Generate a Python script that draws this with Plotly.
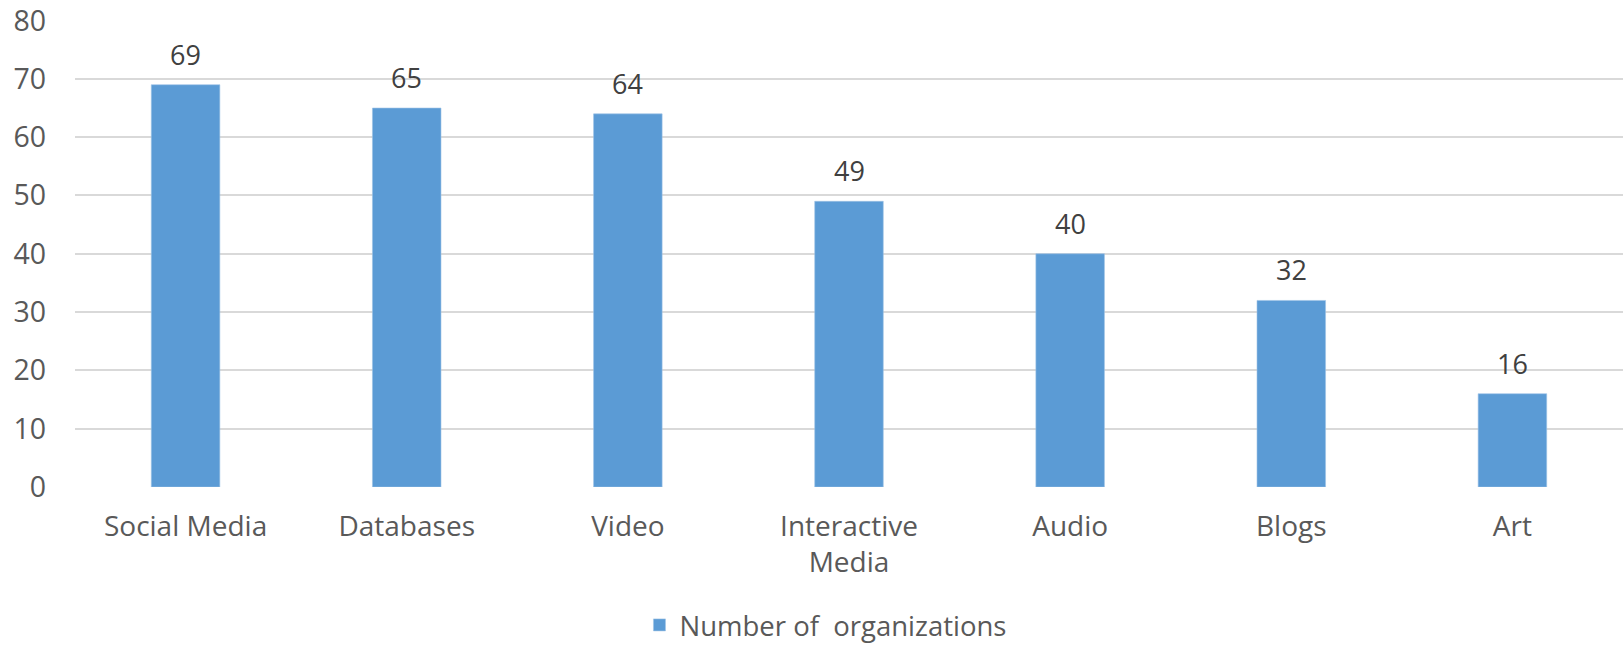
import plotly.graph_objects as go

categories = ["Social Media", "Databases", "Video", "Interactive<br>Media", "Audio", "Blogs", "Art"]
values = [69, 65, 64, 49, 40, 32, 16]
series_name = "Number of  organizations"
y_ticks = [0, 10, 20, 30, 40, 50, 60, 70, 80]

FONT = "Open Sans"
BAR = "#5b9bd5"

fig = go.Figure()
fig.add_trace(go.Bar(
    x=categories, y=values, name=series_name,
    marker=dict(color=BAR, line=dict(color="#9dc3e6", width=0.6)),
    hoverinfo="x+y",
))

for c, v in zip(categories, values):
    fig.add_annotation(x=c, y=v, text=str(v), showarrow=False,
                       yanchor="bottom", yshift=10,
                       font=dict(family=FONT, size=27, color="#404040"))

fig.update_layout(
    width=1623, height=645,
    margin=dict(l=75, r=0, t=20, b=158),
    paper_bgcolor="white", plot_bgcolor="white",
    bargap=0.69,
    showlegend=True,
    legend=dict(orientation="h", xref="container", yref="container",
                x=0.394, xanchor="left", y=0.031, yanchor="middle",
                font=dict(family=FONT, size=27.5, color="#595959"),
                itemwidth=30),
    xaxis=dict(showgrid=False, showline=False, ticks="", automargin=False,
               tickfont=dict(family=FONT, size=28, color="#595959"),
               ticklabelstandoff=20),
    yaxis=dict(range=[0, 80.1], tickvals=y_ticks, showgrid=True, automargin=False,
               ticklabeloverflow="allow",
               gridcolor="#d9d9d9", gridwidth=1.5, zeroline=False, showline=False,
               ticks="", tickfont=dict(family=FONT, size=28.5, color="#595959"),
               ticklabelstandoff=28),
)

# remove the default 8px page margin so the figure fills the window exactly
fig.write_html("out.html", config={"displayModeBar": False},
               post_script="document.body.style.margin='0';")
